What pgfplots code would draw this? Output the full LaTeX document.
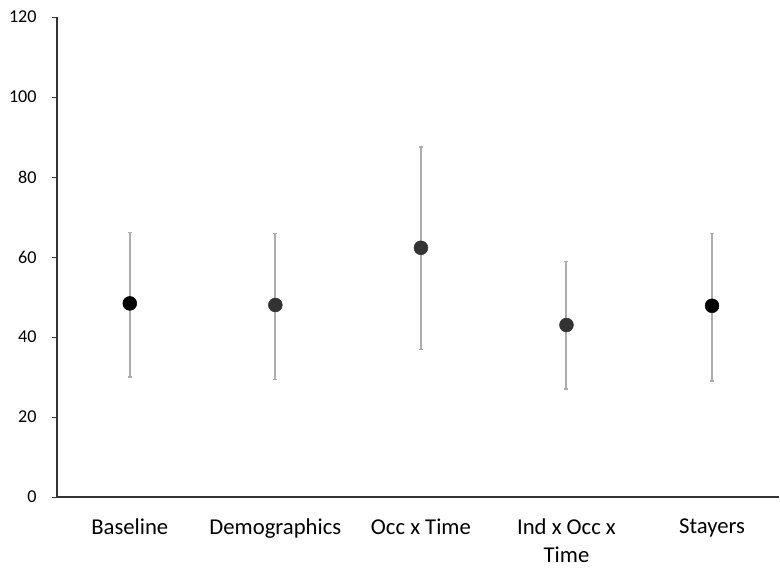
\documentclass[border=0pt]{standalone}
\usepackage{pgfplots}
\pgfplotsset{compat=1.18}
\usepackage{fontspec}
\setmainfont{Carlito}
\definecolor{axisgray}{HTML}{333333}
\definecolor{errgray}{HTML}{ADADAD}
\begin{document}
\begin{tikzpicture}
\begin{axis}[
  scale only axis,
  width=541.5pt, height=360pt,
  xmin=0.5, xmax=5.46,
  ymin=0, ymax=120,
  ytick={0,20,...,120},
  axis lines=left,
  axis line style={axisgray, line width=0.8pt, -},
  tick align=outside,
  tick style={axisgray, line width=0.6pt},
  major tick length=3.75pt,
  xtick={1,2,3,4,5},
  xticklabels={Baseline,Demographics,Occ x Time,{Ind x Occ x\\Time},Stayers},
  x tick label style={font=\fontsize{17}{21}\selectfont, align=center, yshift=-9pt},
  xtick style={draw=none},
  extra x ticks={0.5,1.5,2.5,3.5,4.5},
  extra x tick labels={},
  extra x tick style={xtick style={axisgray, line width=0.6pt}, major tick length=3.75pt},
  y tick label style={font=\fontsize{13.6}{15}\selectfont, xshift=-8pt},
  /pgf/number format/assume math mode=true,
  clip=false,
]
\addplot[draw=none, mark=none,
  error bars/.cd, y dir=both, y explicit,
  error bar style={errgray, line width=1.5pt},
  error mark options={errgray, rotate=90, mark size=1.5pt, line width=1pt}]
  table[x=x, y=y, y error plus=ep, y error minus=em] {
x y ep em
1 48.4 17.8 18.4
2 48.0 17.8 18.7
3 62.3 25.2 25.5
4 43.0 15.8 16.0
5 47.8 18.0 18.8
};
\addplot[only marks, scatter, scatter src=explicit symbolic,
  scatter/classes={a={mark=*, black, mark size=5.2pt}, b={mark=*, fill=black!80, draw=black!80, mark size=5.2pt}}]
  table[x=x, y=y, meta=c] {
x y c
1 48.4 a
2 48.0 b
3 62.3 b
4 43.0 b
5 47.8 a
};
\end{axis}
\path ([xshift=-42.75pt,yshift=-51pt]current axis.south west) rectangle ([xshift=0.75pt,yshift=12.75pt]current axis.north east);
\end{tikzpicture}
\end{document}
